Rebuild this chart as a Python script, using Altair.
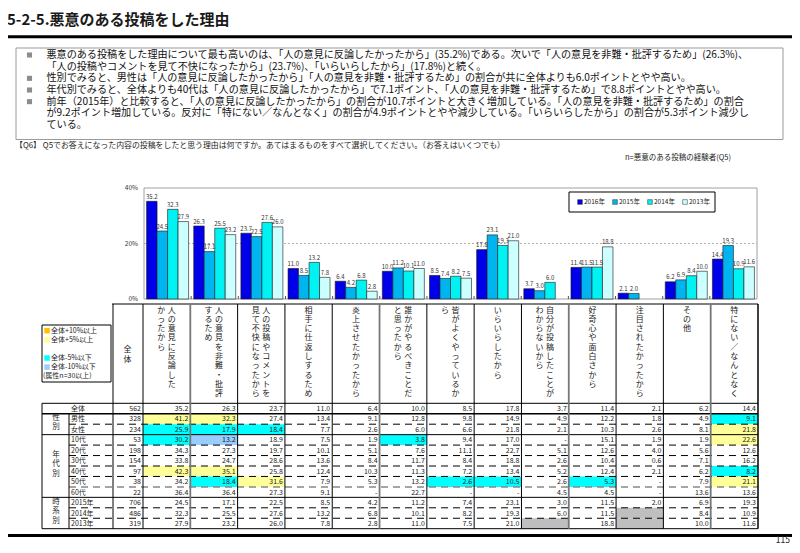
import altair as alt
import pandas as pd

FONT = "Noto Sans CJK JP"
W, H = 784, 537
M = 8


def X(v):
    return v - M


def Y(v):
    return v - M


# ---------------- data ----------------
title_text = "5-2-5.悪意のある投稿をした理由"
summary_lines = [
    "悪意のある投稿をした理由について最も高いのは、「人の意見に反論したかったから」(35.2%)である。次いで「人の意見を非難・批評するため」(26.3%)、",
    "「人の投稿やコメントを見て不快になったから」(23.7%)、「いらいらしたから」(17.8%)と続く。",
    "性別でみると、男性は「人の意見に反論したかったから」「人の意見を非難・批評するため」の割合が共に全体よりも6.0ポイントとやや高い。",
    "年代別でみると、全体よりも40代は「人の意見に反論したかったから」で7.1ポイント、「人の意見を非難・批評するため」で8.8ポイントとやや高い。",
    "前年（2015年）と比較すると、「人の意見に反論したかったから」の割合が10.7ポイントと大きく増加している。「人の意見を非難・批評するため」の割合",
    "が9.2ポイント増加している。反対に「特にない／なんとなく」の割合が4.9ポイントとやや減少している。「いらいらしたから」の割合が5.3ポイント減少し",
    "ている。",
]
summary_bullets = [1, 0, 1, 1, 1, 0, 0]
question_text = "【Q6】 Q5でお答えになった内容の投稿をしたと思う理由は何ですか。あてはまるものをすべて選択してください。（お答えはいくつでも）"
base_note = "n=悪意のある投稿の経験者(Q5)"
page_no = "115"

categories = [
    "人の意見に反論したかったから", "人の意見を非難・批評するため", "人の投稿やコメントを見て不快になったから",
    "相手に仕返しするため", "炎上させたかったから", "誰かがやるべきことだと思ったから", "皆がよくやっているから",
    "いらいらしたから", "自分が投稿したことがわからないから", "好奇心や面白さから", "注目されたかったから",
    "その他", "特にない／なんとなく",
]
header_lines = [
    ["人の意見に反論した", "かったから"], ["人の意見を非難・批評", "するため"], ["人の投稿やコメントを", "見て不快になったから"],
    ["相手に仕返しするため"], ["炎上させたかったから"], ["誰かがやるべきことだ", "と思ったから"], ["皆がよくやっているか", "ら"],
    ["いらいらしたから"], ["自分が投稿したことが", "わからないから"], ["好奇心や面白さから"], ["注目されたかったから"],
    ["その他"], ["特にない／なんとなく"],
]
years = ["2016年", "2015年", "2014年", "2013年"]
bar_colors = ["#0000E8", "#00B4F0", "#00F2F2", "#CCFFFF"]
v2016 = [35.2, 26.3, 23.7, 11.0, 6.4, 10.0, 8.5, 17.8, 3.7, 11.4, 2.1, 6.2, 14.4]
v2015 = [24.5, 17.1, 22.5, 8.5, 4.2, 11.2, 7.4, 23.1, 3.0, 11.5, 2.0, 6.9, 19.3]
v2014 = [32.3, 25.5, 27.6, 13.2, 6.8, 10.1, 8.2, 19.3, 6.0, 11.5, None, 8.4, 10.9]
v2013 = [27.9, 23.2, 26.0, 7.8, 2.8, 11.0, 7.5, 21.0, None, 18.8, None, 10.0, 11.6]
y_ticks = [0, 20, 40]

row_labels = ["全体", "男性", "女性", "10代", "20代", "30代", "40代", "50代", "60代", "2015年", "2014年", "2013年"]
row_n = [562, 328, 234, 53, 198, 154, 97, 38, 22, 706, 486, 319]
table_values = [
    [35.2, 26.3, 23.7, 11.0, 6.4, 10.0, 8.5, 17.8, 3.7, 11.4, 2.1, 6.2, 14.4],
    [41.2, 32.3, 27.4, 13.4, 9.1, 12.8, 9.8, 14.9, 4.9, 12.2, 1.8, 4.9, 9.1],
    [25.9, 17.9, 18.4, 7.7, 2.6, 6.0, 6.6, 21.8, 2.1, 10.3, 2.6, 8.1, 21.8],
    [30.2, 13.2, 18.9, 7.5, 1.9, 3.8, 9.4, 17.0, None, 15.1, 1.9, 1.9, 22.6],
    [34.3, 27.3, 19.7, 10.1, 5.1, 7.6, 11.1, 22.7, 5.1, 12.6, 4.0, 5.6, 12.6],
    [33.8, 24.7, 28.6, 13.6, 8.4, 11.7, 8.4, 18.8, 2.6, 10.4, 0.6, 7.1, 16.2],
    [42.3, 35.1, 25.8, 12.4, 10.3, 11.3, 7.2, 13.4, 5.2, 12.4, 2.1, 6.2, 8.2],
    [34.2, 18.4, 31.6, 7.9, 5.3, 13.2, 2.6, 10.5, 2.6, 5.3, None, 7.9, 21.1],
    [36.4, 36.4, 27.3, 9.1, None, 22.7, None, None, 4.5, 4.5, None, 13.6, 13.6],
    [24.5, 17.1, 22.5, 8.5, 4.2, 11.2, 7.4, 23.1, 3.0, 11.5, 2.0, 6.9, 19.3],
    [32.3, 25.5, 27.6, 13.2, 6.8, 10.1, 8.2, 19.3, 6.0, 11.5, None, 8.4, 10.9],
    [27.9, 23.2, 26.0, 7.8, 2.8, 11.0, 7.5, 21.0, None, 18.8, None, 10.0, 11.6],
]
gray_cells = [(10, 10), (11, 8), (11, 10)]
highlights = [
    (1, 0, "p5"), (1, 1, "p5"), (1, 12, "m5"),
    (2, 0, "m5"), (2, 1, "m5"), (2, 2, "m5"), (2, 12, "p5"),
    (3, 0, "m5"), (3, 1, "m10"), (3, 5, "m5"), (3, 12, "p5"),
    (6, 0, "p5"), (6, 1, "p5"), (6, 12, "m5"),
    (7, 1, "m5"), (7, 2, "p5"), (7, 6, "m5"), (7, 7, "m5"), (7, 9, "m5"), (7, 12, "p5"),
]
kinds = ["p10", "p5", "m5", "m10", "na"]
kind_colors = ["#FFC000", "#FFFF99", "#00FFFF", "#99CCFF", "#BFBFBF"]
legend_items = ["全体+10%以上", "全体+5%以上", "全体-5%以下", "全体-10%以下"]
legend_kinds = ["p10", "p5", "m5", "m10"]
legend_slots = [0, 1, 3, 4]
legend_note = "(属性n=30以上)"
groups = [("性別", 1, 3), ("年代別", 3, 9), ("時系別", 9, 12)]
n_header = "全体"

# ---------------- helpers ----------------
dummy = pd.DataFrame({"d": [0]})


def txt(text, x, y, size, align="left", weight="normal", color="#000", baseline="middle"):
    return alt.Chart(pd.DataFrame({"t": [text]})).mark_text(
        font=FONT, fontSize=size, align=align, baseline=baseline, fontWeight=weight, color=color
    ).encode(x=alt.value(X(x)), y=alt.value(Y(y)), text="t:N")


def hline(x1, x2, y, color="#000", width=1.0, dash=None):
    kw = dict(color=color, strokeWidth=width)
    if dash:
        kw["strokeDash"] = dash
    return alt.Chart(dummy).mark_rule(**kw).encode(
        x=alt.value(X(x1)), x2=alt.value(X(x2)), y=alt.value(Y(y)))


def vline(x, y1, y2, color="#000", width=1.0):
    return alt.Chart(dummy).mark_rule(color=color, strokeWidth=width).encode(
        x=alt.value(X(x)), y=alt.value(Y(y1)), y2=alt.value(Y(y2)))


def box(x1, y1, x2, y2, stroke="#000", fill="white", width=1.0, fill_opacity=1.0):
    return alt.Chart(dummy).mark_rect(stroke=stroke, strokeWidth=width, fill=fill, fillOpacity=fill_opacity).encode(
        x=alt.value(X(x1)), x2=alt.value(X(x2)), y=alt.value(Y(y1)), y2=alt.value(Y(y2)))


layers = []

# ---------------- page header ----------------
layers.append(txt(title_text, 7, 19.5, 15, weight="bold", color="#1a1a1a"))
layers.append(hline(0, 800, 36.7, width=3))
layers.append(box(16, 48, 783, 139.5, stroke="#9a9a9a", fill="white", fill_opacity=0))
sum_df = pd.DataFrame({"i": list(range(len(summary_lines))), "t": summary_lines, "b": summary_bullets})
sum_y = alt.Y("i:Q", scale=alt.Scale(domain=[0, 6], range=[Y(55), Y(125)], nice=False, zero=False), axis=None)
layers.append(alt.Chart(sum_df).mark_text(font=FONT, fontSize=10.1, align="left", baseline="middle", color="#111").encode(
    x=alt.value(X(46.5)), y=sum_y, text="t:N"))
layers.append(alt.Chart(sum_df).transform_filter("datum.b == 1").mark_square(size=26, color="#8c8c8c", opacity=1).encode(
    x=alt.value(X(29.5)), y=sum_y))
layers.append(txt(question_text, 15, 146, 7.9, color="#222"))
layers.append(txt(base_note, 625, 157.5, 7.5, color="#222"))

# ---------------- bar chart ----------------
bar_rows = []
for ci, cat in enumerate(categories):
    for yr, vals in zip(years, [v2016, v2015, v2014, v2013]):
        v = vals[ci]
        if v is not None:
            bar_rows.append({"cat": cat, "year": yr, "v": v, "lbl": f"{v:.1f}"})
bar_df = pd.DataFrame(bar_rows)

bar_xscale = alt.Scale(type="band", domain=categories, range=[X(144), X(757)], paddingInner=0, paddingOuter=0)
bx = alt.X("cat:N", scale=bar_xscale, axis=None)
bxo = alt.XOffset("year:N", scale=alt.Scale(type="band", domain=years, paddingInner=0, paddingOuter=0.245))
by_scale = alt.Scale(domain=[0, 40], range=[Y(299), Y(188)], nice=False, zero=True)
by = alt.Y("v:Q", scale=by_scale, axis=None)
year_fill = alt.Fill("year:N", scale=alt.Scale(domain=years, range=bar_colors), legend=None)

layers.append(box(144, 188, 757, 299, stroke="#a0a0a0", fill="white", fill_opacity=0))
layers.append(alt.Chart(pd.DataFrame({"v": [20]})).mark_rule(color="#b0b0b0", strokeDash=[2, 2]).encode(
    y=by, x=alt.value(X(144)), x2=alt.value(X(757))))
layers.append(alt.Chart(bar_df).mark_bar(stroke="#1a1a1a", strokeWidth=0.6).encode(
    x=bx, xOffset=bxo, y=by, fill=year_fill))
layers.append(alt.Chart(bar_df).mark_text(font=FONT, fontSize=6, baseline="bottom", dy=-1.5, color="#333").encode(
    x=bx, xOffset=bxo, y=by, text="lbl:N"))
layers.append(alt.Chart(pd.DataFrame({"v": y_ticks, "t": [f"{t}%" for t in y_ticks]})).mark_text(
    font=FONT, fontSize=6.5, align="right", baseline="middle", color="#333").encode(
    x=alt.value(X(138)), y=by, text="t:N"))
layers.append(alt.Chart(pd.DataFrame({"cat": categories[1:]})).mark_rule(color="#555").encode(
    x=alt.X("cat:N", scale=bar_xscale, bandPosition=0, axis=None), y=alt.value(Y(296)), y2=alt.value(Y(299))))

# legend of bar chart
layers.append(box(569, 192, 715, 212, stroke="#000", fill="white"))
leg_x = alt.X("year:N", scale=alt.Scale(type="point", domain=years, range=[X(580), X(685)], padding=0), axis=None)
leg_df = pd.DataFrame({"year": years})
layers.append(alt.Chart(leg_df).mark_square(size=22, stroke="#333", strokeWidth=0.5, opacity=1).encode(
    x=leg_x, y=alt.value(Y(202)), fill=year_fill))
layers.append(alt.Chart(leg_df).mark_text(font=FONT, fontSize=6.5, align="left", baseline="middle", dx=4, color="#222").encode(
    x=leg_x, y=alt.value(Y(202)), text="year:N"))

# line between chart and table
layers.append(hline(112, 758, 304, width=1))

# ---------------- table ----------------
tx_scale = alt.Scale(type="band", domain=categories, range=[X(143), X(758)], paddingInner=0, paddingOuter=0)
ty_scale = alt.Scale(domain=[0, 12], range=[Y(403.3), Y(528.7)], nice=False, zero=False)

hl_rows = [{"cat": categories[c], "r": r, "r2": r + 1, "kind": k} for (r, c, k) in highlights]
hl_rows += [{"cat": categories[c], "r": r, "r2": r + 1, "kind": "na"} for (r, c) in gray_cells]
kind_fill = alt.Fill("kind:N", scale=alt.Scale(domain=kinds, range=kind_colors), legend=None)
layers.append(alt.Chart(pd.DataFrame(hl_rows)).mark_rect().encode(
    x=alt.X("cat:N", scale=tx_scale, axis=None),
    y=alt.Y("r:Q", scale=ty_scale, axis=None), y2="r2:Q", fill=kind_fill))

cell_rows = []
for r, vals in enumerate(table_values):
    for ci, cat in enumerate(categories):
        if (r, ci) in gray_cells:
            continue
        v = vals[ci]
        cell_rows.append({"cat": cat, "yc": r + 0.55, "t": "-" if v is None else f"{v:.1f}"})
layers.append(alt.Chart(pd.DataFrame(cell_rows)).mark_text(
    font=FONT, fontSize=7, align="right", baseline="middle", dx=-2, color="#222").encode(
    x=alt.X("cat:N", scale=tx_scale, bandPosition=1, axis=None),
    y=alt.Y("yc:Q", scale=ty_scale, axis=None), text="t:N"))

lab_df = pd.DataFrame({"yc": [r + 0.55 for r in range(len(row_labels))], "t": row_labels,
                       "n": [str(n) for n in row_n]})
layers.append(alt.Chart(lab_df).mark_text(font=FONT, fontSize=7, align="left", baseline="middle", color="#222").encode(
    x=alt.value(X(71)), y=alt.Y("yc:Q", scale=ty_scale, axis=None), text="t:N"))
layers.append(alt.Chart(lab_df).mark_text(font=FONT, fontSize=7, align="right", baseline="middle", color="#222").encode(
    x=alt.value(X(141)), y=alt.Y("yc:Q", scale=ty_scale, axis=None), text="n:N"))

grp_rows = []
for name, r0, r1 in groups:
    c = (r0 + r1) / 2 - 0.15
    for k, ch in enumerate(name):
        grp_rows.append({"yc": c + (k - (len(name) - 1) / 2) * 0.92, "t": ch})
layers.append(alt.Chart(pd.DataFrame(grp_rows)).mark_text(font=FONT, fontSize=7.5, align="center", baseline="middle", color="#222").encode(
    x=alt.value(X(56)), y=alt.Y("yc:Q", scale=ty_scale, axis=None), text="t:N"))

# horizontal lines of table
solid_df = pd.DataFrame({"r": [0, 1, 3, 9, 12], "w": [1, 1.6, 1, 1, 1]})
layers.append(alt.Chart(solid_df).mark_rule(color="#000").encode(
    x=alt.value(X(42)), x2=alt.value(X(758)), y=alt.Y("r:Q", scale=ty_scale, axis=None),
    strokeWidth=alt.StrokeWidth("w:Q", scale=None)))
layers.append(alt.Chart(pd.DataFrame({"r": [2, 4, 5, 6, 7, 10, 11]})).mark_rule(color="#000", strokeDash=[7, 5]).encode(
    x=alt.value(X(69)), x2=alt.value(X(758)), y=alt.Y("r:Q", scale=ty_scale, axis=None)))
layers.append(alt.Chart(pd.DataFrame({"r": [8]})).mark_rule(color="#888", strokeDash=[7, 5], strokeWidth=1.5).encode(
    x=alt.value(X(69)), x2=alt.value(X(758)), y=alt.Y("r:Q", scale=ty_scale, axis=None)))

# vertical lines of table
layers.append(vline(42, 403.3, 528.7))
layers.append(vline(69, 413.8, 528.7))
layers.append(vline(113, 304, 528.7))
bnd_df = pd.DataFrame({"cat": categories, "w": [1.0, 1.8, 1, 1, 1, 1.8, 1, 1, 1, 1.8, 1, 1, 1.8],
                       "c": ["#000", "#777", "#000", "#000", "#000", "#777", "#000", "#000", "#000", "#777", "#000", "#000", "#777"]})
layers.append(alt.Chart(bnd_df).mark_rule().encode(
    x=alt.X("cat:N", scale=tx_scale, bandPosition=0, axis=None), y=alt.value(Y(304)), y2=alt.value(Y(528.7)),
    strokeWidth=alt.StrokeWidth("w:Q", scale=None), color=alt.Color("c:N", scale=None)))
layers.append(vline(758, 304, 528.7, width=1.5))

# vertical header text
hdr_rows = []
for cat, lines in zip(categories, header_lines):
    for j, line in enumerate(lines):
        for k, ch in enumerate(line):
            hdr_rows.append({"cat": cat, "j": j, "n": len(lines), "k": k, "ch": ch})
hdr_df = pd.DataFrame(hdr_rows)
hx = alt.X("cat:N", scale=tx_scale, bandPosition=0.5, axis=None)
hy = alt.Y("k:Q", scale=alt.Scale(domain=[0, 9], range=[Y(310.5), Y(310.5 + 9 * 9.3)], nice=False, zero=False), axis=None)
for cond, dx in [("datum.n == 1", 0), ("datum.n == 2 && datum.j == 0", 5), ("datum.n == 2 && datum.j == 1", -5.5)]:
    layers.append(alt.Chart(hdr_df).transform_filter(cond).mark_text(
        font=FONT, fontSize=8, align="center", baseline="middle", dx=dx, color="#222").encode(
        x=hx, y=hy, text="ch:N"))
for k, ch in enumerate(n_header):
    layers.append(txt(ch, 127.5, 350 + k * 9.5, 8, align="center", color="#222"))

# left legend
layers.append(box(42, 325, 111, 382, stroke="#000", fill="white"))
lg_df = pd.DataFrame({"s": legend_slots, "t": legend_items, "kind": legend_kinds})
lg_y = alt.Y("s:Q", scale=alt.Scale(domain=[0, 5], range=[Y(330.7), Y(376.2)], nice=False, zero=False), axis=None)
layers.append(alt.Chart(lg_df).mark_square(size=30, opacity=1).encode(x=alt.value(X(47)), y=lg_y, fill=kind_fill))
layers.append(alt.Chart(lg_df).mark_text(font=FONT, fontSize=7, align="left", baseline="middle", color="#222").encode(
    x=alt.value(X(51)), y=lg_y, text="t:N"))
layers.append(txt(legend_note, 43, 376.2, 7, color="#222"))

# footer
layers.append(hline(0, 800, 535.5, width=3))
layers.append(txt(page_no, 790, 544.5, 8.5, align="right", baseline="bottom", color="#222"))

chart = alt.layer(*layers).resolve_scale(
    x="independent", y="independent", xOffset="independent", fill="independent", color="independent"
).properties(width=W, height=H, autosize="none", padding=0).configure_view(strokeWidth=0)

chart.save("out.html", embed_options={"renderer": "svg", "actions": False})
